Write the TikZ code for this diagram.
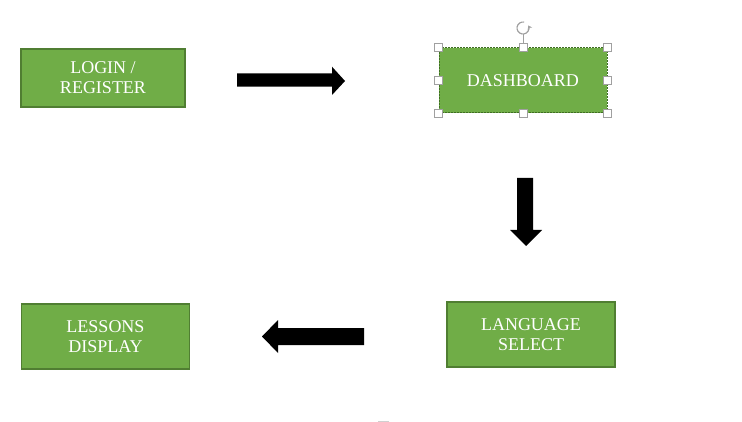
\documentclass[tikz,border=0pt]{standalone}
\usepackage{fontspec}
\setmainfont{Liberation Serif}
\usetikzlibrary{arrows.meta}
\definecolor{boxfill}{HTML}{70AD47}
\definecolor{boxline}{HTML}{507E32}
\definecolor{selline}{HTML}{3F6E23}
\definecolor{handle}{HTML}{A0A0A0}
\tikzset{
  stepbox/.style={rectangle, fill=boxfill, draw=boxline, line width=1.6pt,
    text=white, align=center, inner sep=0pt,
    font=\fontsize{18}{20}\selectfont},
  blockarrow/.style={fill=black, draw=none},
  handlebox/.style={rectangle, fill=white, draw=handle, line width=0.8pt,
    minimum size=8pt, inner sep=0pt},
}
\begin{document}
\begin{tikzpicture}[x=1pt,y=-1pt]
\useasboundingbox (0,0) rectangle (742,422);
% boxes
\node[stepbox, minimum width=164pt, minimum height=58pt] (login) at (103,78) {LOGIN /\\REGISTER};
\node[stepbox, minimum width=168pt, minimum height=65pt, draw=selline, line width=1pt,
  dash pattern=on 2pt off 1pt] (dash) at (523,80.5) {DASHBOARD};
\node[stepbox, minimum width=168pt, minimum height=65pt] (lang) at (531,334.5) {LANGUAGE\\SELECT};
\node[stepbox, minimum width=168pt, minimum height=65pt] (lessons) at (105.5,336.5) {LESSONS\\DISPLAY};
% block arrows
\fill[blockarrow] (237,73.3) -- (332,73.3) -- (332,66.7) -- (345,81) -- (332,95) -- (332,86.7) -- (237,86.7) -- cycle;
\fill[blockarrow] (517,178) -- (533,178) -- (533,230) -- (542,230) -- (526,246) -- (510,230) -- (517,230) -- cycle;
\fill[blockarrow] (364,328) -- (364,345) -- (278,345) -- (278,353) -- (262,336.5) -- (278,320) -- (278,328) -- cycle;
% selection handles
\coordinate (rot) at (523,28);
\draw[handle, line width=0.8pt] (dash.north) -- ([yshift=-6pt]rot);
\draw[handle, line width=1.2pt, -{Stealth[length=3.5pt,width=5pt]}] (rot) ++(-80:6) arc[start angle=-80, end angle=-385, radius=6];
\foreach \a in {north west, north, north east, east, south east, south, south west, west}
  \node[handlebox] at (dash.\a) {};
% faint mark
\draw[handle!50, line width=0.8pt] (378,421) -- (389,421);
\end{tikzpicture}
\end{document}
